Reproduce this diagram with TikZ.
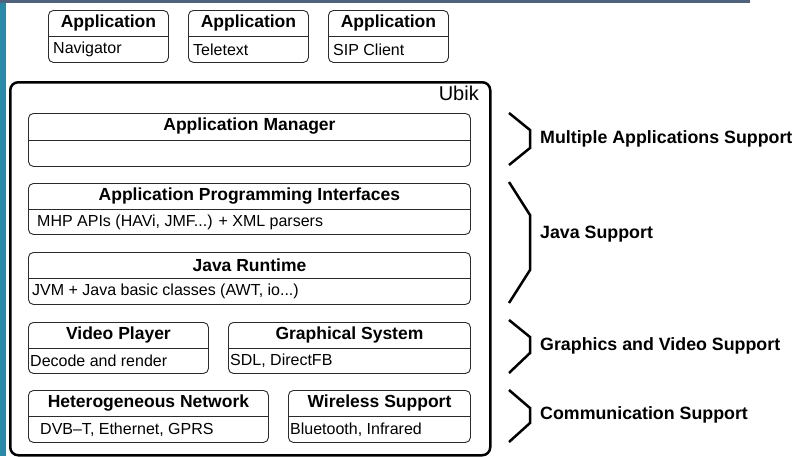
\documentclass[tikz,border=0pt]{standalone}
\usepackage{fontspec}
\setmainfont{Liberation Sans}
\usetikzlibrary{calc, positioning}
\definecolor{barTeal}{HTML}{2A88A8}
\definecolor{barSlate}{HTML}{4F637C}
\definecolor{boxLine}{HTML}{2B2B2B}

\tikzset{
  layerbox/.style={draw=boxLine, line width=0.9pt, rounded corners=5pt, inner sep=0pt, fill=white, anchor=north west},
  layertitle/.style={font=\fontsize{17.5}{20}\selectfont\bfseries, inner sep=0pt},
  layersub/.style={font=\fontsize{16}{19}\selectfont, inner sep=0pt, anchor=west},
  supportlabel/.style={font=\fontsize{17.8}{20}\selectfont\bfseries, inner sep=0pt, anchor=west},
  bracket/.style={line width=2.5pt, line join=miter},
}

% name, x1, y1, x2, y2, indent, title, sub
\newcommand{\stackbox}[8]{%
  \node[layerbox, minimum width=#4-#2, minimum height=#5-#3] (#1) at (#2,#3) {};
  \draw[draw=boxLine, line width=0.9pt] (#1.west) -- (#1.east);
  \node[layertitle] (#1-title) at ($(#1.north)!0.5!(#1.center)$) {#7};
  \node[layersub] (#1-sub) at ($(#1.west)!0.5!(#1.south west)+(#6pt,0)$) {#8};
}

\begin{document}
\begin{tikzpicture}[x=1pt, y=-1pt]
  \useasboundingbox (0,0) rectangle (798,456);
  \fill[white] (0,0) rectangle (798,456);
  \fill[barTeal] (0,0) rectangle (6,456);
  \fill[barSlate] (0,0) rectangle (750,3);

  % applications
  \stackbox{nav}{48}{10}{168}{62}{5}{Application}{Navigator}
  \stackbox{ttx}{188}{10}{308}{62}{5}{Application}{Teletext}
  \stackbox{sip}{328}{10}{448}{62}{5}{Application}{SIP Client}

  % ubik frame
  \node[draw, line width=2.5pt, rounded corners=8pt, anchor=north west, inner sep=0pt,
        minimum width=480, minimum height=373] (ubik) at (9,81) {};
  \node[font=\fontsize{20}{22}\selectfont, inner sep=0pt, anchor=base east] (ubik-name) at (479,100) {Ubik};

  % layers
  \stackbox{mgr}{28}{113}{470}{166}{0}{Application Manager}{}
  \stackbox{api}{28}{183}{470}{234}{9}{Application Programming Interfaces}{MHP APIs (HAVi, JMF...) + XML parsers}
  \stackbox{jvm}{28}{252}{470}{304}{4}{Java Runtime}{JVM + Java basic classes (AWT, io...)}
  \stackbox{video}{28}{322}{208}{373}{2}{Video Player}{Decode and render}
  \stackbox{gfx}{228}{322}{470}{373}{2}{Graphical System}{SDL, DirectFB}
  \stackbox{net}{28}{390}{268}{442}{12}{Heterogeneous Network}{DVB--T, Ethernet, GPRS}
  \stackbox{wifi}{288}{390}{470}{442}{2}{Wireless Support}{Bluetooth, Infrared}

  % support brackets
  \draw[bracket] (509,113) -- (530,130) -- (530,148) -- (509,165);
  \draw[bracket] (509,182) -- (530,215) -- (530,270) -- (509,303);
  \draw[bracket] (509,320) -- (530,337) -- (530,353) -- (509,373);
  \draw[bracket] (509,390) -- (530,408) -- (530,423) -- (509,442);

  \node[supportlabel] (multi) at (540,139) {Multiple Applications Support};
  \node[supportlabel] (java) at (540,234) {Java Support};
  \node[supportlabel] (graphics) at (540,346) {Graphics and Video Support};
  \node[supportlabel] (comm) at (540,415) {Communication Support};
\end{tikzpicture}
\end{document}
